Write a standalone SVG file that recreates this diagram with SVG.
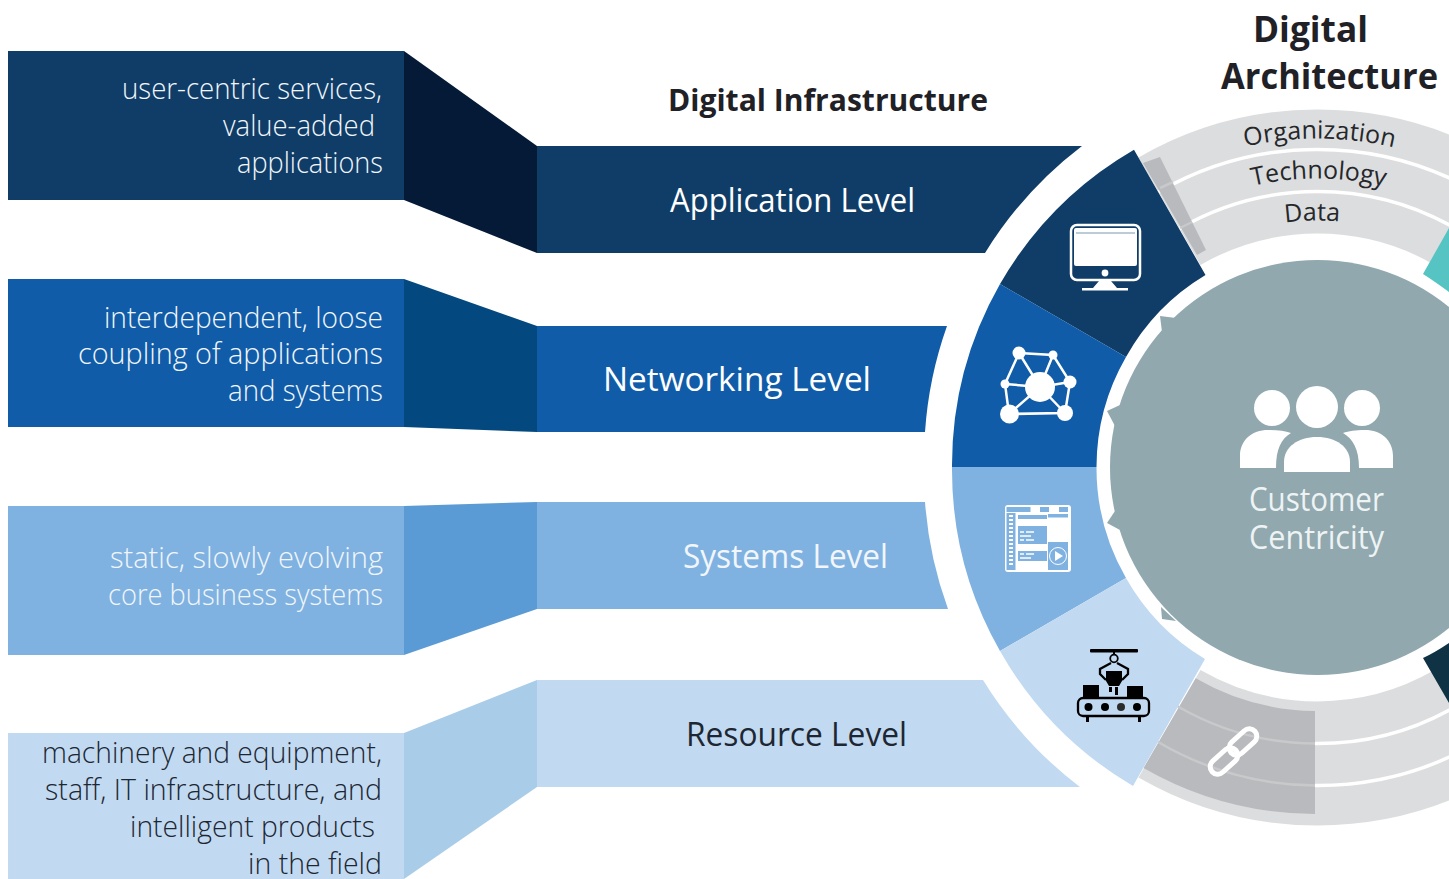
<svg xmlns="http://www.w3.org/2000/svg" width="1449" height="879" viewBox="0 0 1449 879">
<style>
text{font-family:"Open Sans","Noto Sans","Liberation Sans",sans-serif}
.d{font-size:28.500px;font-weight:300;text-anchor:end;fill:#f2f6fa}
.dk{fill:#1d2733}
.l{font-size:32px;text-anchor:middle;fill:#fff}
.t{font-weight:700;text-anchor:middle;fill:#1f2126}
.r{font-size:25px;fill:#25272b;text-anchor:middle}
.ring{fill:none;stroke:#dcddde;stroke-width:124}
.ln{fill:none;stroke:#fff;stroke-width:3.5}
.fl{fill:none;stroke:#c8c9cb;stroke-width:2.5}
.w{fill:#fff}
.b{fill:#7fb2e1}
.k{fill:#000}
</style>
<defs>
<path id="a1" d="M1032.6 303A329 329 0 0 1 1602.4 303"/>
<path id="a2" d="M1067.2 323A289 289 0 0 1 1567.800 323"/>
<path id="a3" d="M1103.600 344A247 247 0 0 1 1531.400 344"/>
</defs>
<rect width="1449" height="879" fill="#fff"/>
<g id="connectors">
<polygon points="404,51 537,146 537,253 404,200" fill="#051a36"/>
<polygon points="404,279 537,326 537,432 404,427" fill="#03497f"/>
<polygon points="404,506 537,502 537,609 404,655" fill="#5b9bd5"/>
<polygon points="404,733 537,680 537,787 404,879" fill="#a9cde9"/>
</g>
<g id="desc-application">
<rect x="8" y="51" width="396" height="149" fill="#0f3d68"/>
<text class="d" x="382" y="99" textLength="260" lengthAdjust="spacingAndGlyphs">user-centric services,</text>
<text class="d" x="375" y="136" textLength="152" lengthAdjust="spacingAndGlyphs">value-added</text>
<text class="d" x="383" y="173" textLength="146" lengthAdjust="spacingAndGlyphs">applications</text>
</g>
<g id="desc-networking">
<rect x="8" y="279" width="396" height="148" fill="#105ca8"/>
<text class="d" x="383" y="328" textLength="279" lengthAdjust="spacingAndGlyphs">interdependent, loose</text>
<text class="d" x="383" y="364" textLength="305" lengthAdjust="spacingAndGlyphs">coupling of applications</text>
<text class="d" x="383" y="401" textLength="155" lengthAdjust="spacingAndGlyphs">and systems</text>
</g>
<g id="desc-systems">
<rect x="8" y="506" width="396" height="149" fill="#7fb2e1"/>
<text class="d" x="383" y="568" textLength="273" lengthAdjust="spacingAndGlyphs">static, slowly evolving</text>
<text class="d" x="383" y="605" textLength="275" lengthAdjust="spacingAndGlyphs">core business systems</text>
</g>
<g id="desc-resource">
<rect x="8" y="733" width="396" height="146" fill="#c2daf1"/>
<text class="d dk" x="382" y="763" textLength="340" lengthAdjust="spacingAndGlyphs">machinery and equipment,</text>
<text class="d dk" x="382" y="800" textLength="337" lengthAdjust="spacingAndGlyphs">staff, IT infrastructure, and</text>
<text class="d dk" x="375" y="837" textLength="245" lengthAdjust="spacingAndGlyphs">intelligent products</text>
<text class="d dk" x="382" y="874" textLength="134" lengthAdjust="spacingAndGlyphs">in the field</text>
</g>
<g id="level-application">
<path d="M537 146H1082A396 396 0 0 0 985 253H537Z" fill="#0f3d68"/>
<text class="l" x="792.500" y="212" textLength="245" lengthAdjust="spacingAndGlyphs">Application Level</text>
</g>
<g id="level-networking">
<path d="M537 326H947A396 396 0 0 0 925 432H537Z" fill="#105ca8"/>
<text class="l" x="737" y="391" textLength="268" lengthAdjust="spacingAndGlyphs">Networking Level</text>
</g>
<g id="level-systems">
<path d="M537 502H925A396 396 0 0 0 948 609H537Z" fill="#7fb2e1"/>
<text class="l" x="785.500" y="568" textLength="205" lengthAdjust="spacingAndGlyphs" style="fill:#f2f6fa">Systems Level</text>
</g>
<g id="level-resource">
<path d="M537 680H983A396 396 0 0 0 1080 787H537Z" fill="#c2daf1"/>
<text class="l" x="796.500" y="746" textLength="221" lengthAdjust="spacingAndGlyphs" style="fill:#1d2733">Resource Level</text>
</g>
<g id="titles">
<text class="t" x="828" y="111" font-size="31" textLength="320" lengthAdjust="spacingAndGlyphs">Digital Infrastructure</text>
<text class="t" x="1310.500" y="42" font-size="36" textLength="115" lengthAdjust="spacingAndGlyphs">Digital</text>
<text class="t" x="1329.500" y="89" font-size="36" textLength="217" lengthAdjust="spacingAndGlyphs">Architecture</text>
</g>
<g id="ring">
<path class="ring" d="M1169.500 211.200A296 296 0 0 1 1465.500 211.200"/>
<path class="ring" d="M1169.500 723.800A296 296 0 0 0 1465.500 723.800"/>
<path class="ln" d="M1158.500 192A318 318 0 0 1 1476.500 192"/>
<path class="ln" d="M1179.500 228.500A276 276 0 0 1 1455.500 228.500"/>
<path class="ln" d="M1315 785.500A318 318 0 0 0 1476.500 743"/>
<path class="ln" d="M1315 743.500A276 276 0 0 0 1455.500 706.500"/>
<polygon points="1143,163 1160,157 1206,250 1197,255" fill="#b9babd"/>
<path class="fl" d="M1160 188L1173 182"/>
<path class="fl" d="M1180 228L1192 222"/>
<path d="M1195.700 678.200A243.500 243.500 0 0 0 1315 711V814A347 347 0 0 1 1143.500 768Z" fill="#b9babd"/>
<path class="fl" d="M1177 706A276 276 0 0 0 1315 743.500"/>
<path class="fl" d="M1158 742A318 318 0 0 0 1315 785.500"/>
<text class="r"><textPath href="#a1" startOffset="50.3%">Organization</textPath></text>
<text class="r"><textPath href="#a2" startOffset="50.2%">Technology</textPath></text>
<text class="r"><textPath href="#a3" startOffset="49%">Data</textPath></text>
</g>
<g id="wedge-application">
<path d="M1134 149.700A367 367 0 0 0 1000 284L1126 357A221 221 0 0 1 1205.500 275Z" fill="#0f3d68"/>
<rect x="1071" y="225" width="69" height="55" rx="6" fill="none" stroke="#fff" stroke-width="2.500"/>
<rect x="1074" y="228" width="63" height="38" rx="2" fill="#fff"/>
<rect x="1076" y="232" width="59" height="2" fill="#bccbd8"/>
<circle cx="1105" cy="273" r="3.400" fill="#fff"/>
<polygon points="1099,281 1111,281 1117,288 1093,288" fill="#fff"/>
<rect x="1082" y="288" width="46" height="2.500" fill="#fff"/>
</g>
<g id="wedge-networking">
<path d="M1000 284L1126 357A221 221 0 0 0 1096.500 467H952A367 367 0 0 1 1000 284Z" fill="#105ca8"/>
<path d="M1019 353L1053 355L1070 382L1065 413L1009 414L1005 384Z M1019 353L1040 387L1053 355 M1005 384L1040 387L1070 382 M1009 414L1040 387L1065 413" fill="none" stroke="#fff" stroke-width="2.500"/>
<circle cx="1040" cy="387" r="15" class="w"/><circle cx="1019" cy="353" r="6.500" class="w"/><circle cx="1053" cy="355" r="4.500" class="w"/><circle cx="1070" cy="382" r="6.500" class="w"/><circle cx="1005" cy="384" r="4.500" class="w"/><circle cx="1009.500" cy="414" r="9.500" class="w"/><circle cx="1065" cy="413" r="8" class="w"/>
</g>
<g id="wedge-systems">
<path d="M952 467H1096.500A221 221 0 0 0 1126 578L1000 651A367 367 0 0 1 952 467Z" fill="#7fb2e1"/>
<rect x="1005" y="505" width="66" height="67" rx="3" class="w"/>
<rect x="1006.500" y="507" width="24" height="5" class="b"/><rect x="1040" y="507" width="9" height="5" class="b"/><rect x="1059" y="507" width="9" height="5" class="b"/>
<rect x="1006.500" y="513" width="9" height="57" class="b"/>
<path d="M1009 516h4M1009 520h4M1009 524h4M1009 528h4M1009 532h4M1009 536h4M1009 540h4M1009 544h4M1009 548h4M1009 552h4M1009 556h4M1009 560h4M1009 564h4" stroke="#fff" stroke-width="2" fill="none"/>
<rect x="1018" y="515" width="29" height="4" class="b"/><rect x="1048" y="514" width="20" height="3.500" class="b"/>
<rect x="1018" y="526" width="29" height="18" class="b"/><rect x="1018" y="551" width="29" height="10" class="b"/>
<path d="M1020 532h4M1026 532h8M1020 536h11M1020 540h4M1026 540h8M1020 554h4M1026 554h8M1020 558h11" stroke="#fff" stroke-width="1.500" fill="none"/>
<rect x="1048" y="542" width="20" height="28" class="b"/>
<circle cx="1058" cy="556" r="8.500" fill="none" stroke="#fff"/>
<polygon points="1055,551 1055,561 1063,556" fill="#fff"/>
</g>
<g id="wedge-resource">
<path d="M1000 651L1126 578A221 221 0 0 0 1205 659L1133 786A367 367 0 0 1 1000 651Z" fill="#c2daf1"/>
<rect x="1090" y="649" width="48" height="3.500" rx="1" class="k"/>
<rect x="1113" y="652" width="2" height="3" class="k"/>
<circle cx="1114" cy="658.500" r="3.800" fill="none" stroke="#000" stroke-width="1.800"/>
<path d="M1111 663L1100 669V674L1106 680M1117 663L1128 669V674L1122 680" fill="none" stroke="#000" stroke-width="2.300"/>
<polygon points="1106,671 1122,671 1122,681 1119,686 1109,686 1106,681" class="k"/>
<rect x="1109" y="687" width="3" height="5" class="k"/><rect x="1115" y="687" width="3" height="8" class="k"/>
<rect x="1083" y="685" width="16" height="13" class="k"/><rect x="1127" y="686" width="16" height="12" class="k"/>
<rect x="1078" y="698" width="71" height="18" rx="5" fill="none" stroke="#000" stroke-width="2.300"/>
<circle cx="1088.500" cy="707" r="4" class="k"/><circle cx="1105" cy="707" r="4" class="k"/><circle cx="1121" cy="707" r="4" fill="#2b2b2b"/><circle cx="1137" cy="707" r="4" class="k"/>
<rect x="1086" y="717" width="3" height="5" class="k"/><rect x="1138" y="717" width="3" height="5" class="k"/>
</g>
<g id="wedge-others">
<path d="M1423 274L1449 228V292Q1434 281 1423 274Z" fill="#57c4c4"/>
<path d="M1423 658L1449 703V643Q1434 653 1423 658Z" fill="#0f3344"/>
</g>
<g id="link-icon" fill="none" stroke="#fff" stroke-width="5">
<rect x="-16" y="-7.500" width="32" height="15" rx="7.500" transform="translate(1243 742) rotate(-42)"/>
<rect x="-16" y="-7.500" width="32" height="15" rx="7.500" transform="translate(1224 761) rotate(-42)"/>
</g>
<g id="customer-centricity">
<circle cx="1317.500" cy="467.500" r="207.500" fill="#90a8ae"/>
<polygon points="1160,316 1176,318 1162,332" fill="#90a8ae"/>
<polygon points="1107,411 1120,405 1115,426" fill="#90a8ae"/>
<polygon points="1107,523 1115,511 1120,530" fill="#90a8ae"/>
<polygon points="1161,607 1162,619 1176,621" fill="#90a8ae"/>
<circle cx="1272" cy="408" r="18" class="w"/><circle cx="1317" cy="407" r="21" class="w"/><circle cx="1362" cy="408" r="18" class="w"/>
<path d="M1284 472V462C1284 447 1298 437 1317 437C1336 437 1350 447 1350 462V472Z" class="w"/>
<path d="M1240 468V456C1240 440 1252 430 1268 430C1278 430 1285 431 1291 433C1281 439 1276 449 1276 468Z" class="w"/>
<path d="M1393 468V456C1393 440 1381 430 1365 430C1355 430 1349 431 1343 433C1353 439 1359 449 1359 468Z" class="w"/>
<text class="l" x="1316.500" y="511" textLength="135" lengthAdjust="spacingAndGlyphs" style="fill:#eef3f4">Customer</text>
<text class="l" x="1316.500" y="549" textLength="135" lengthAdjust="spacingAndGlyphs" style="fill:#eef3f4">Centricity</text>
</g>
</svg>
